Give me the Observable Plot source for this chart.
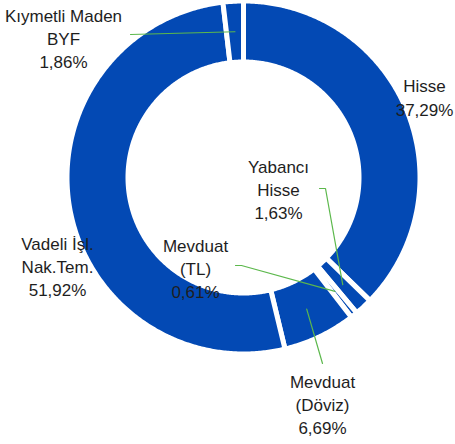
<!DOCTYPE html>
<html><head><meta charset="utf-8">
<script src="https://cdn.jsdelivr.net/npm/d3@7"></script>
<script src="https://cdn.jsdelivr.net/npm/@observablehq/plot@0.6"></script>
<style>html,body{margin:0;padding:0;background:#fff;overflow:hidden}svg{display:block}</style>
</head><body>
<script>
// ---- data ----
const categories = ["Hisse", "Yabancı Hisse", "Mevduat (TL)", "Mevduat (Döviz)", "Vadeli İşl. Nak.Tem.", "Kıymetli Maden BYF"];
const nameLines = [["Hisse"], ["Yabancı", "Hisse"], ["Mevduat", "(TL)"], ["Mevduat", "(Döviz)"], ["Vadeli İşl.", "Nak.Tem."], ["Kıymetli Maden", "BYF"]];
const values = [37.29, 1.63, 0.61, 6.69, 51.92, 1.86];
const valueLabels = ["37,29%", "1,63%", "0,61%", "6,69%", "51,92%", "1,86%"];

// ---- layout (pixel units relative to donut centre, y down) ----
const labelPos = [[181, -81], [35, 11], [-48, 90], [79, 226], [-186, 88], [-180, -140]];
const leaderStart = [null, [[76, 11], [82, 11]], [[-8, 88], [-2, 88]], [[79, 186]], null, [[-113, -143]]];
const R_OUT = 174, R_IN = 118, GAP = 5;
const BLUE = "#0349b4";

const arcs = d3.pie().sort(null).value(d => d)(values);
const pt = (r, a) => ({x: r * Math.sin(a), y: -r * Math.cos(a)});

const ring = [];
arcs.forEach((a, i) => {
  const n = Math.max(2, Math.ceil((a.endAngle - a.startAngle) / (Math.PI / 360)));
  const ro = R_OUT + GAP / 2, ri = R_IN - GAP / 2;
  const pts = [];
  for (let k = 0; k <= n; k++) pts.push(pt(ro, a.startAngle + (a.endAngle - a.startAngle) * k / n));
  for (let k = n; k >= 0; k--) pts.push(pt(ri, a.startAngle + (a.endAngle - a.startAngle) * k / n));
  pts.push(pts[0]);
  pts.forEach(p => ring.push({id: categories[i], ...p}));
});

const leaders = [];
arcs.forEach((a, i) => {
  if (!leaderStart[i]) return;
  const mid = (a.startAngle + a.endAngle) / 2;
  leaderStart[i].forEach(([x, y]) => leaders.push({id: categories[i], x, y}));
  leaders.push({id: categories[i], ...pt((R_OUT + R_IN) / 2, mid)});
});

const labels = categories.map((c, i) => ({
  x: labelPos[i][0], y: labelPos[i][1],
  text: [...nameLines[i], valueLabels[i]].join("\n")
}));

const chart = Plot.plot({
  width: 455, height: 444,
  margin: 0,
  x: {domain: [-243, 212], range: [0, 455], axis: null},
  y: {domain: [-177, 267], range: [0, 444], axis: null},
  style: {background: "#fff", overflow: "visible"},
  marks: [
    Plot.line(ring, {x: "x", y: "y", z: "id", fill: BLUE, stroke: "white", strokeWidth: GAP, curve: "linear"}),
    Plot.line(leaders, {x: "x", y: "y", z: "id", stroke: "#5cb84c", strokeWidth: 1.2}),
    Plot.text(labels, {x: "x", y: "y", text: "text", fontSize: 17, lineHeight: 1.37,
      fontFamily: "Liberation Sans, Arial, sans-serif", fill: "#1e1e1e", textAnchor: "middle"})
  ]
});
document.body.appendChild(chart);
</script>
</body></html>
